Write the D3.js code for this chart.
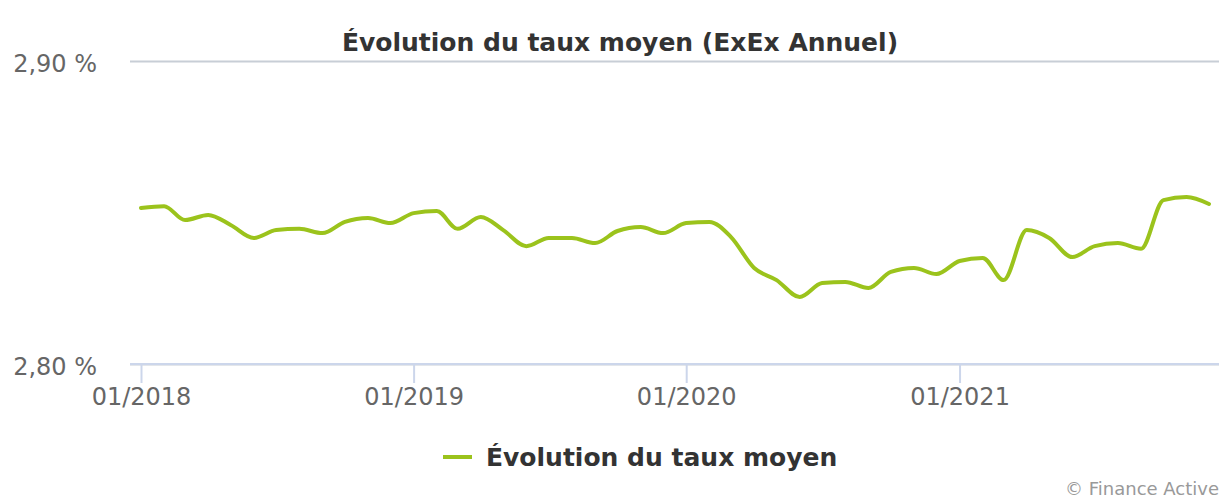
<!DOCTYPE html>
<html>
<head>
<meta charset="utf-8">
<script src="https://cdn.jsdelivr.net/npm/d3@7"></script>
<style>
  body { margin: 0; background: #fff; }
  svg text { font-family: "DejaVu Sans", sans-serif; }
</style>
</head>
<body>
<svg id="chart" width="1219" height="500"></svg>
<script>
// monthly average rate, 01/2018 -> 12/2021
var months = [];
for (var m = 0; m < 48; m++) months.push(new Date(2018, m, 1));
var rates = [
  2.8515, 2.8521, 2.8475, 2.8492, 2.8459, 2.8416, 2.8442, 2.8446, 2.8432, 2.8469, 2.8482, 2.8465,
  2.8498, 2.8505, 2.8446, 2.8485, 2.8442, 2.8389, 2.8416, 2.8416, 2.8399, 2.8439, 2.8452, 2.8432,
  2.8465, 2.8469, 2.8419, 2.8317, 2.8277, 2.8221, 2.8267, 2.8271, 2.8251, 2.8304, 2.8317, 2.8297,
  2.8340, 2.8350, 2.8277, 2.8442, 2.8416, 2.8353, 2.8389, 2.8399, 2.8380, 2.8541, 2.8551, 2.8528
];
var yTicks = [2.80, 2.90];
var xTicks = [new Date(2018, 0, 1), new Date(2019, 0, 1), new Date(2020, 0, 1), new Date(2021, 0, 1)];
var title = "Évolution du taux moyen (ExEx Annuel)";
var seriesName = "Évolution du taux moyen";
var credits = "© Finance Active";

var plotLeft = 130, plotRight = 1219, plotTop = 61, plotBottom = 364;
var green = "#9bc31c";

var svg = d3.select("#chart");

var x = d3.scaleTime()
    .domain([months[0], months[months.length - 1]])
    .range([141, 1209]);
var y = d3.scaleLinear()
    .domain([2.80, 2.90])
    .range([plotBottom, plotTop]);

var fmtPct = function(d){ return d.toFixed(2).replace(".", ",") + " %"; };

// y grid + labels
var yAxis = svg.append("g")
    .attr("transform", "translate(" + plotLeft + ",0)")
    .call(d3.axisLeft(y).tickValues(yTicks).tickSize(-(plotRight - plotLeft)).tickFormat(fmtPct));
yAxis.select(".domain").remove();
yAxis.selectAll("line").attr("stroke", "#c8ced6").attr("stroke-width", 2);
yAxis.selectAll("text")
    .attr("x", -33)
    .attr("dy", "0.45em")
    .attr("fill", "#666")
    .style("font-size", "24px");

// x axis
var xAxis = svg.append("g")
    .attr("transform", "translate(0," + plotBottom + ")")
    .call(d3.axisBottom(x).tickValues(xTicks).tickSize(19).tickFormat(d3.timeFormat("%m/%Y")));
xAxis.select(".domain").remove();
xAxis.selectAll("line").attr("stroke", "#ccd6eb").attr("stroke-width", 2);
xAxis.selectAll("text")
    .attr("y", 24)
    .attr("fill", "#666")
    .style("font-size", "24px");
svg.append("line")
    .attr("x1", plotLeft).attr("x2", plotRight)
    .attr("y1", plotBottom).attr("y2", plotBottom)
    .attr("stroke", "#ccd6eb").attr("stroke-width", 2);

// the series
var line = d3.line()
    .x(function(d, i){ return x(months[i]); })
    .y(function(d){ return y(d); })
    .curve(d3.curveMonotoneX);

svg.append("path")
    .datum(rates)
    .attr("d", line)
    .attr("fill", "none")
    .attr("stroke", green)
    .attr("stroke-width", 4)
    .attr("stroke-linejoin", "round")
    .attr("stroke-linecap", "round");

// title
svg.append("text")
    .attr("x", 620).attr("y", 51)
    .attr("text-anchor", "middle")
    .attr("fill", "#333")
    .style("font-size", "25px")
    .style("font-weight", "bold")
    .text(title);

// legend
svg.append("line")
    .attr("x1", 443).attr("x2", 472)
    .attr("y1", 457).attr("y2", 457)
    .attr("stroke", green).attr("stroke-width", 4);
svg.append("text")
    .attr("x", 486).attr("y", 466)
    .attr("fill", "#333")
    .style("font-size", "25px")
    .style("font-weight", "bold")
    .text(seriesName);

// credits
svg.append("text")
    .attr("x", 1219).attr("y", 495)
    .attr("text-anchor", "end")
    .attr("fill", "#999")
    .style("font-size", "18px")
    .text(credits);
</script>
</body>
</html>
